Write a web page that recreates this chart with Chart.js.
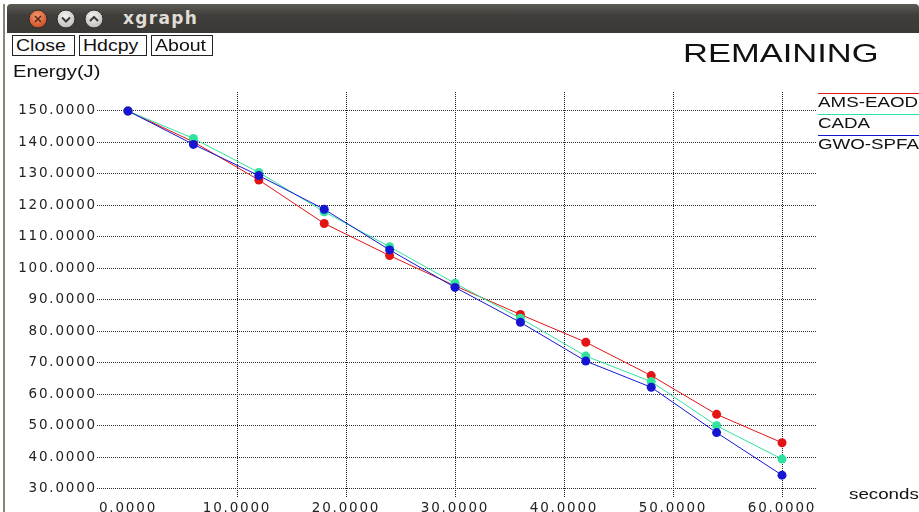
<!DOCTYPE html>
<html>
<head>
<meta charset="utf-8">
<script src="https://cdn.jsdelivr.net/npm/chart.js@4.4.1/dist/chart.umd.min.js"></script>
<style>
  body { margin: 0; background: #fff; }
  #wrap { position: relative; width: 919px; height: 512px; overflow: hidden; background: #fff; }
  #chart { position: absolute; left: 0; top: 0; }
  .bar { position: absolute; left: 7px; top: 4px; width: 912px; height: 29px;
         background: linear-gradient(#5c5b56, #3f3e3a 40%, #3a3935); border-radius: 4px 4px 0 0; }
  .edge { position: absolute; left: 3px; top: 4px; width: 2px; height: 508px; background: #8a8378; }
  .btn { position: absolute; top: 35px; height: 19px; border: 1px solid #222; background: #fff;
         font: 16px "Liberation Sans", Arial, sans-serif; line-height: 19px;
         color: #111; padding-left: 3px; box-sizing: content-box; white-space: nowrap; }
  .btn span { display: inline-block; transform: scaleX(1.22); transform-origin: 0 50%; }
  .wtitle { position: absolute; left: 123px; top: 8px; color: #e0ddd6;
            font: bold 17px "DejaVu Sans", sans-serif; letter-spacing: 1.3px; }
</style>
</head>
<body>
<div id="wrap">
  <canvas id="chart" width="919" height="512"></canvas>
  <div class="edge"></div>
  <div class="bar"></div>
  <svg style="position:absolute;left:0;top:0" width="120" height="34">
    <defs>
      <radialGradient id="rc" cx="45%" cy="35%" r="70%">
        <stop offset="0" stop-color="#f59a70"/><stop offset="1" stop-color="#c9461d"/>
      </radialGradient>
      <radialGradient id="gc" cx="45%" cy="35%" r="70%">
        <stop offset="0" stop-color="#f4f4f2"/><stop offset="1" stop-color="#b9b8b3"/>
      </radialGradient>
    </defs>
    <circle cx="38" cy="19" r="9" fill="url(#rc)" stroke="#2c2b28"/>
    <path d="M35 16 L41 22 M41 16 L35 22" stroke="#5a2a18" stroke-width="1.6"/>
    <circle cx="66" cy="19" r="9" fill="url(#gc)" stroke="#2c2b28"/>
    <path d="M62 17.5 L66 21.5 L70 17.5" stroke="#3c3b37" stroke-width="2" fill="none"/>
    <circle cx="94" cy="19" r="9" fill="url(#gc)" stroke="#2c2b28"/>
    <path d="M90 21 L94 17 L98 21" stroke="#3c3b37" stroke-width="2" fill="none"/>
  </svg>
  <div class="wtitle">xgraph</div>
  <div class="btn" style="left:12px;width:58px"><span>Close</span></div>
  <div class="btn" style="left:79px;width:63px"><span>Hdcpy</span></div>
  <div class="btn" style="left:151px;width:57px"><span>About</span></div>
</div>
<script>
const seconds = [0, 6, 12, 18, 24, 30, 36, 42, 48, 54, 60];
const amsEaod = [150, 140.2, 128.1, 114.3, 104.1, 94.5, 85.4, 76.6, 66.0, 53.7, 44.7];
const cada = [150, 141.3, 130.5, 118.0, 106.9, 95.3, 84.2, 72.2, 64.1, 50.1, 39.5];
const gwoSpfa = [150, 139.4, 129.5, 118.8, 105.9, 94.0, 82.9, 70.6, 62.3, 47.9, 34.4];
const xTicks = [0, 10, 20, 30, 40, 50, 60];
const yTicks = [30, 40, 50, 60, 70, 80, 90, 100, 110, 120, 130, 140, 150];

function points(ys) {
  return seconds.map((x, i) => ({ x: x, y: ys[i] }));
}

function series(label, ys, color, order) {
  return {
    label: label,
    data: points(ys),
    borderColor: color,
    backgroundColor: color,
    pointBackgroundColor: color,
    borderWidth: 1,
    pointRadius: 4.5,
    pointBorderWidth: 0,
    tension: 0,
    order: order
  };
}

const textFont = '"Liberation Sans", Arial, sans-serif';
const tickFont = '"DejaVu Sans", sans-serif';

// the screenshot is stretched sideways, so draw the texts a bit wider
function wide(ctx, text, x, y, sx) {
  ctx.save();
  ctx.translate(x, y);
  ctx.scale(sx, 1);
  ctx.fillText(text, 0, 0);
  ctx.restore();
}

// texts around the plot: title, axis names, legend
const extras = {
  id: 'extras',
  beforeDraw(chart) {
    chart.ctx.letterSpacing = '1.8px';
  },
  afterDraw(chart) {
    const ctx = chart.ctx;
    ctx.save();
    ctx.letterSpacing = '0px';
    ctx.fillStyle = '#111';
    ctx.textBaseline = 'alphabetic';
    ctx.textAlign = 'left';

    ctx.font = '25px ' + textFont;
    wide(ctx, 'REMAINING', 683, 62, 1.38);

    ctx.font = '16px ' + textFont;
    wide(ctx, 'Energy(J)', 13, 77, 1.26);

    ctx.font = '15px ' + textFont;
    wide(ctx, 'seconds', 849, 499, 1.25);

    const ys = [93, 114, 135];
    chart.data.datasets.forEach((ds, i) => {
      ctx.strokeStyle = ds.borderColor;
      ctx.lineWidth = 1;
      ctx.beginPath();
      ctx.moveTo(818, ys[i] + 0.5);
      ctx.lineTo(919, ys[i] + 0.5);
      ctx.stroke();
      ctx.fillStyle = '#111';
      wide(ctx, ds.label, 818, ys[i] + 14, 1.25);
    });
    ctx.restore();
  }
};

new Chart(document.getElementById('chart'), {
  type: 'line',
  data: {
    datasets: [
      series('AMS-EAOD', amsEaod, '#e21414', 3),
      series('CADA', cada, '#2fe39c', 2),
      series('GWO-SPFA', gwoSpfa, '#1616d2', 1)
    ]
  },
  options: {
    responsive: false,
    animation: false,
    layout: { padding: { top: 92, right: 102, left: 0, bottom: 0 } },
    plugins: { legend: { display: false }, tooltip: { enabled: false } },
    scales: {
      x: {
        type: 'linear',
        min: -2.844,
        max: 63.21,
        afterBuildTicks: (scale) => { scale.ticks = xTicks.map(v => ({ value: v })); },
        afterFit: (scale) => { scale.height = 15; },
        grid: {
          color: (c) => (c.tick && c.tick.value === 0) ? 'rgba(0,0,0,0)' : '#1a1a1a',
          drawTicks: false,
          lineWidth: 1
        },
        border: { display: false, dash: [1, 1] },
        ticks: {
          autoSkip: false,
          maxRotation: 0,
          padding: 3,
          color: '#222',
          font: { family: tickFont, size: 13.5 },
          callback: (v) => Number(v).toFixed(4)
        }
      },
      y: {
        min: 27.46,
        max: 156.03,
        afterBuildTicks: (scale) => { scale.ticks = yTicks.map(v => ({ value: v })); },
        afterFit: (scale) => { scale.width = 97; },
        grid: { color: '#2a2a2a', drawTicks: false, lineWidth: 1 },
        border: { display: false, dash: [1, 1] },
        ticks: {
          padding: 0,
          color: '#222',
          font: { family: tickFont, size: 13.5 },
          callback: (v) => Number(v).toFixed(4)
        }
      }
    }
  },
  plugins: [extras]
});
</script>
</body>
</html>
